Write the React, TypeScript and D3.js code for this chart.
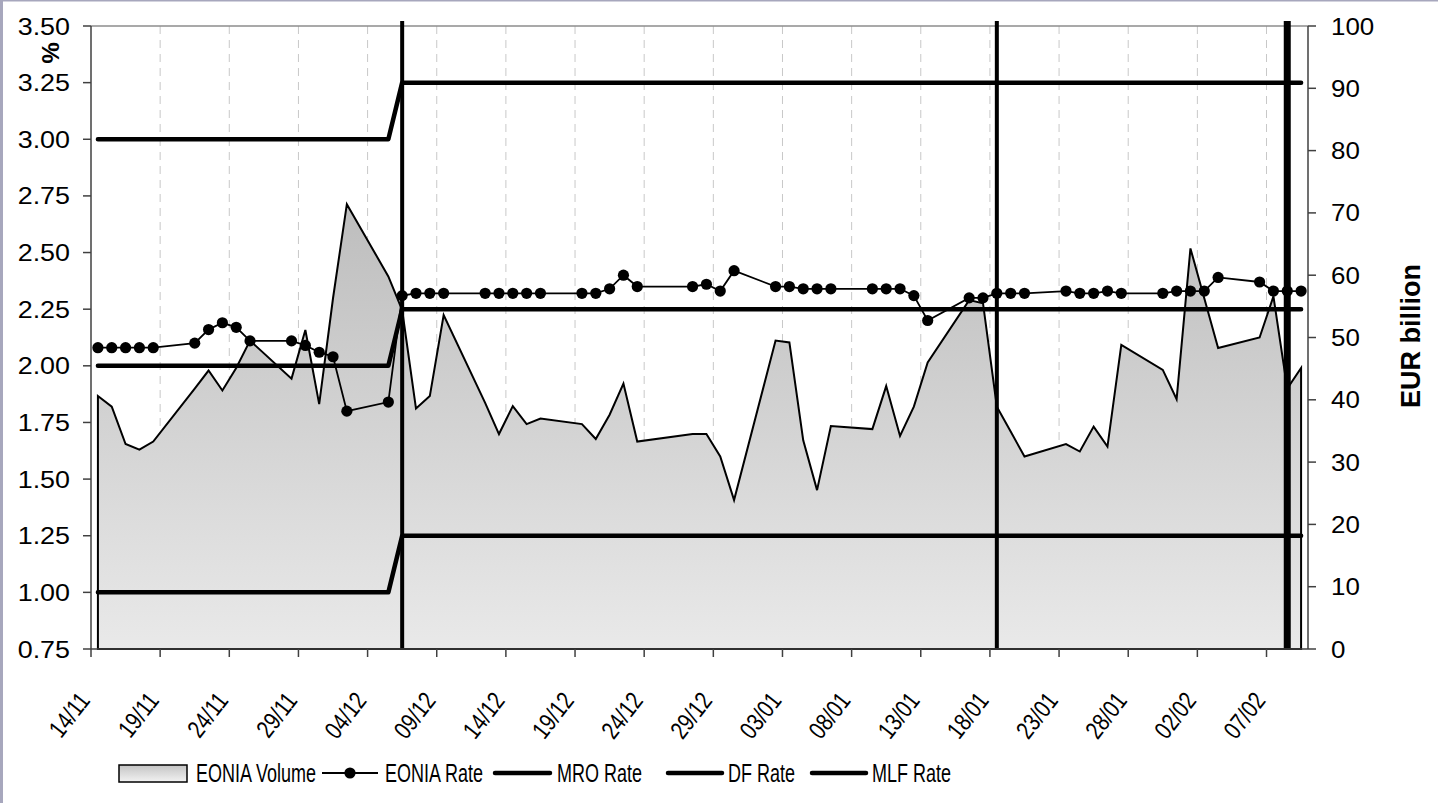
import * as d3 from 'd3';

// business days with an EONIA fixing
const dates = [
  '2005-11-14', '2005-11-15', '2005-11-16', '2005-11-17', '2005-11-18',
  '2005-11-21', '2005-11-22', '2005-11-23', '2005-11-24', '2005-11-25',
  '2005-11-28', '2005-11-29', '2005-11-30', '2005-12-01', '2005-12-02',
  '2005-12-05', '2005-12-06', '2005-12-07', '2005-12-08', '2005-12-09',
  '2005-12-12', '2005-12-13', '2005-12-14', '2005-12-15', '2005-12-16',
  '2005-12-19', '2005-12-20', '2005-12-21', '2005-12-22', '2005-12-23',
  '2005-12-27', '2005-12-28', '2005-12-29', '2005-12-30',
  '2006-01-02', '2006-01-03', '2006-01-04', '2006-01-05', '2006-01-06',
  '2006-01-09', '2006-01-10', '2006-01-11', '2006-01-12', '2006-01-13',
  '2006-01-16', '2006-01-17', '2006-01-18', '2006-01-19', '2006-01-20',
  '2006-01-23', '2006-01-24', '2006-01-25', '2006-01-26', '2006-01-27',
  '2006-01-30', '2006-01-31', '2006-02-01', '2006-02-02', '2006-02-03',
  '2006-02-06', '2006-02-07', '2006-02-08', '2006-02-09'
];

// EONIA rate, %
const eoniaRate = [
  2.08, 2.08, 2.08, 2.08, 2.08,
  2.10, 2.16, 2.19, 2.17, 2.11,
  2.11, 2.09, 2.06, 2.04, 1.80,
  1.84, 2.31, 2.32, 2.32, 2.32,
  2.32, 2.32, 2.32, 2.32, 2.32,
  2.32, 2.32, 2.34, 2.40, 2.35,
  2.35, 2.36, 2.33, 2.42,
  2.35, 2.35, 2.34, 2.34, 2.34,
  2.34, 2.34, 2.34, 2.31, 2.20,
  2.30, 2.30, 2.32, 2.32, 2.32,
  2.33, 2.32, 2.32, 2.33, 2.32,
  2.32, 2.33, 2.33, 2.33, 2.39,
  2.37, 2.33, 2.33, 2.33
];

// EONIA volume, EUR billion
const eoniaVolume = [
  40.6, 38.9, 32.9, 32.0, 33.3,
  41.8, 44.7, 41.5, 45.1, 49.5,
  43.4, 51.2, 39.3, 56.3, 71.4,
  59.8, 54.4, 38.6, 40.6, 53.6,
  39.5, 34.5, 39.0, 36.1, 37.0,
  36.1, 33.7, 37.6, 42.6, 33.3,
  34.5, 34.5, 30.9, 23.9,
  49.5, 49.2, 33.5, 25.5, 35.8,
  35.3, 42.2, 34.2, 38.9, 46.0,
  56.0, 55.5, 38.9, 34.9, 30.9,
  32.9, 31.7, 35.7, 32.5, 48.8,
  44.8, 40.1, 64.3, 56.3, 48.3,
  50.0, 56.6, 41.8, 45.1
];

// ECB key rates and the dates they took effect
const rateChangeDates = ['2005-11-14', '2005-12-06'];
const mroLevels = [2.0, 2.25];
const dfLevels = [1.0, 1.25];
const mlfLevels = [3.0, 3.25];

// start of reserve maintenance periods
const maintenanceStarts = ['2005-12-06', '2006-01-18', '2006-02-08'];

const axisStart = '2005-11-14';
const axisEnd = '2006-02-10';
const leftTicks = [0.75, 1.0, 1.25, 1.5, 1.75, 2.0, 2.25, 2.5, 2.75, 3.0, 3.25, 3.5];
const rightTicks = [0, 10, 20, 30, 40, 50, 60, 70, 80, 90, 100];

const W = 1438;
const H = 803;
const margin = { top: 26, right: 130, bottom: 154, left: 91 };
const FONT = '"Liberation Sans", Arial, sans-serif';

const parse = d3.utcParse('%Y-%m-%d');
const fmtDay = d3.utcFormat('%d/%m');
const mid = (s: string) => d3.utcHour.offset(parse(s) as Date, 12);

export default function App() {
  const x = d3
    .scaleUtc()
    .domain([parse(axisStart) as Date, parse(axisEnd) as Date])
    .range([margin.left, W - margin.right]);
  const yRate = d3.scaleLinear().domain([0.75, 3.5]).range([H - margin.bottom, margin.top]);
  const yVol = d3.scaleLinear().domain([0, 100]).range([H - margin.bottom, margin.top]);
  const x0 = margin.left;
  const x1 = W - margin.right;
  const yb = H - margin.bottom;

  const changeTimes = rateChangeDates.map((d) => parse(d) as Date);
  const levelAt = (levels: number[], s: string) =>
    levels[d3.bisectRight(changeTimes, parse(s) as Date) - 1];

  const rows = dates.map((d, i) => ({
    t: mid(d),
    rate: eoniaRate[i],
    vol: eoniaVolume[i],
    mro: levelAt(mroLevels, d),
    df: levelAt(dfLevels, d),
    mlf: levelAt(mlfLevels, d)
  }));

  const area = d3
    .area<(typeof rows)[number]>()
    .x((d) => x(d.t))
    .y0(yb)
    .y1((d) => yVol(d.vol));
  const rateLine = d3
    .line<(typeof rows)[number]>()
    .x((d) => x(d.t))
    .y((d) => yRate(d.rate));
  const policyLine = (key: 'mro' | 'df' | 'mlf') =>
    d3
      .line<(typeof rows)[number]>()
      .x((d) => x(d.t))
      .y((d) => yRate(d[key]))(rows) as string;

  const xTicks = d3.utcDay.range(parse(axisStart) as Date, parse(axisEnd) as Date, 5);

  // legend layout
  const lgY = 773;
  const legendText = (tx: number, label: string) => (
    <text
      transform={`translate(${tx},${lgY + 9}) scale(0.72,1)`}
      fontSize={25}
      fontFamily={FONT}
      fill="#000"
    >
      {label}
    </text>
  );

  return (
    <div style={{ position: 'fixed', left: 0, top: 0, width: W, height: H, background: '#fff' }}>
      <svg width={W} height={H} style={{ display: 'block' }}>
        <defs>
          <linearGradient id="volFill" gradientUnits="userSpaceOnUse" x1="0" y1={yVol(72)} x2="0" y2={yb}>
            <stop offset="0" stopColor="#bdbdbd" />
            <stop offset="1" stopColor="#e9e9e9" />
          </linearGradient>
          <linearGradient id="legFill" x1="0" y1="0" x2="0" y2="1">
            <stop offset="0" stopColor="#c4c4c4" />
            <stop offset="1" stopColor="#f2f2f2" />
          </linearGradient>
        </defs>

        <rect x={0} y={0} width={W} height={H} fill="#fff" />
        <rect x={0} y={0} width={3} height={H} fill="#a7a7bd" />
        <rect x={0} y={0} width={W} height={1.5} fill="#a7a7bd" />

        {/* dashed vertical gridlines */}
        {xTicks.slice(1).map((t, i) => (
          <line
            key={'g' + i}
            x1={x(t)}
            x2={x(t)}
            y1={margin.top}
            y2={yb}
            stroke="#c8c8c8"
            strokeWidth={1}
            strokeDasharray="8,6"
          />
        ))}
        <line x1={x0} x2={x1} y1={margin.top} y2={margin.top} stroke="#8c8c8c" strokeWidth={1.5} />

        {/* volume area */}
        <path
          d={area(rows) as string}
          fill="url(#volFill)"
          stroke="#000"
          strokeWidth={2}
          strokeLinejoin="miter"
        />

        {/* policy rates */}
        {(['mlf', 'mro', 'df'] as const).map((k) => (
          <path
            key={k}
            d={policyLine(k)}
            fill="none"
            stroke="#000"
            strokeWidth={4.5}
            strokeLinecap="round"
            strokeLinejoin="round"
          />
        ))}

        {/* maintenance period markers */}
        {maintenanceStarts.map((d, i) => (
          <line
            key={'m' + i}
            x1={x(mid(d))}
            x2={x(mid(d))}
            y1={margin.top - 5}
            y2={yb}
            stroke="#000"
            strokeWidth={i === maintenanceStarts.length - 1 ? 7 : 4}
          />
        ))}

        {/* EONIA rate */}
        <path d={rateLine(rows) as string} fill="none" stroke="#000" strokeWidth={1.8} />
        {rows.map((d, i) => (
          <circle key={'c' + i} cx={x(d.t)} cy={yRate(d.rate)} r={5.6} fill="#000" />
        ))}

        {/* left axis */}
        <line x1={x0} x2={x0} y1={margin.top} y2={yb} stroke="#404040" strokeWidth={1.5} />
        {leftTicks.map((v) => (
          <g key={'l' + v}>
            <line x1={x0 - 8} x2={x0} y1={yRate(v)} y2={yRate(v)} stroke="#404040" strokeWidth={1.5} />
            <text
              transform={`translate(70,${yRate(v) + 8.5}) scale(1.12,1)`}
              textAnchor="end"
              fontSize={24}
              fontFamily={FONT}
            >
              {d3.format('.2f')(v)}
            </text>
          </g>
        ))}
        <text
          transform="translate(50,53) rotate(90)"
          textAnchor="middle"
          dominantBaseline="central"
          fontSize={24}
          fontWeight="bold"
          fontFamily={FONT}
        >
          %
        </text>

        {/* right axis */}
        <line x1={x1} x2={x1} y1={margin.top} y2={yb} stroke="#404040" strokeWidth={1.5} />
        {rightTicks.map((v) => (
          <g key={'r' + v}>
            <line x1={x1} x2={x1 + 8} y1={yVol(v)} y2={yVol(v)} stroke="#404040" strokeWidth={1.5} />
            <text
              transform={`translate(1331,${yVol(v) + 8.5}) scale(1.08,1)`}
              fontSize={24}
              fontFamily={FONT}
            >
              {v}
            </text>
          </g>
        ))}
        <text
          transform="translate(1411,336) rotate(-90)"
          textAnchor="middle"
          dominantBaseline="central"
          fontSize={27}
          fontWeight="bold"
          fontFamily={FONT}
        >
          EUR billion
        </text>

        {/* bottom axis */}
        <line x1={x0} x2={x1} y1={yb} y2={yb} stroke="#404040" strokeWidth={1.5} />
        {xTicks.map((t, i) => (
          <g key={'b' + i}>
            <line x1={x(t)} x2={x(t)} y1={yb} y2={yb + 8} stroke="#404040" strokeWidth={1.5} />
            <text
              transform={`translate(${x(t)},701) rotate(-52) scale(0.8,1)`}
              textAnchor="end"
              fontSize={25}
              fontFamily={FONT}
            >
              {fmtDay(t)}
            </text>
          </g>
        ))}

        {/* legend */}
        <rect x={119} y={765} width={68} height={17} fill="url(#legFill)" stroke="#000" strokeWidth={1.5} />
        {legendText(196, 'EONIA Volume')}
        <line x1={322} x2={378} y1={lgY} y2={lgY} stroke="#000" strokeWidth={2} />
        <circle cx={350} cy={lgY} r={5.6} fill="#000" />
        {legendText(385, 'EONIA Rate')}
        <line x1={495} x2={550} y1={lgY} y2={lgY} stroke="#000" strokeWidth={4.5} strokeLinecap="round" />
        {legendText(557, 'MRO Rate')}
        <line x1={668} x2={722} y1={lgY} y2={lgY} stroke="#000" strokeWidth={4.5} strokeLinecap="round" />
        {legendText(728, 'DF Rate')}
        <line x1={812} x2={866} y1={lgY} y2={lgY} stroke="#000" strokeWidth={4.5} strokeLinecap="round" />
        {legendText(872, 'MLF Rate')}
      </svg>
    </div>
  );
}
